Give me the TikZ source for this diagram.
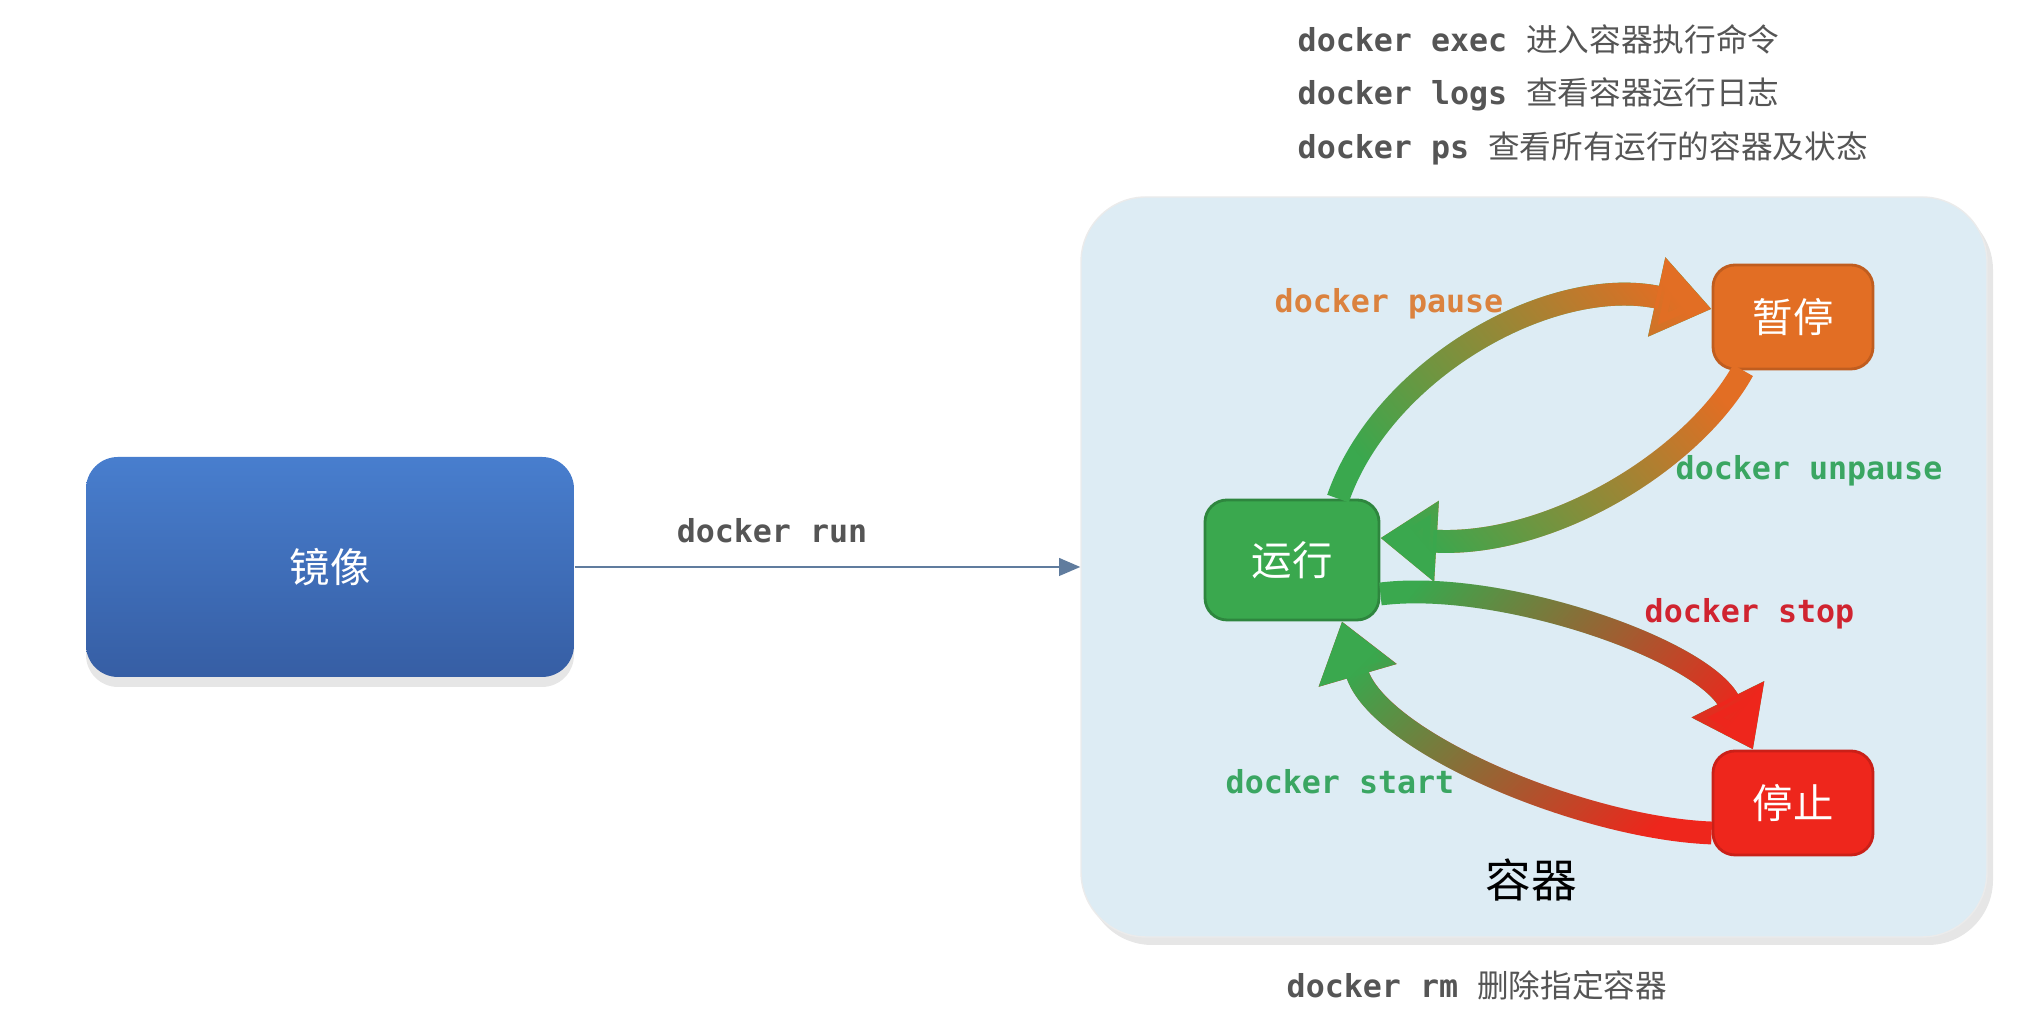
\documentclass[tikz,border=0pt]{standalone}
\usepackage{fontspec}
\setmainfont{Noto Sans CJK SC}
\setmonofont{DejaVu Sans Mono}
\usetikzlibrary{positioning}
\usetikzlibrary{arrows.meta}
\usetikzlibrary{fadings}
\usetikzlibrary{shadows}
\definecolor{txtgray}{RGB}{85,85,85}
\definecolor{imgtop}{RGB}{72,126,206}
\definecolor{imgbot}{RGB}{54,94,164}
\definecolor{boxbg}{RGB}{221,236,244}
\definecolor{rungreen}{RGB}{58,168,78}
\definecolor{pauseorange}{RGB}{226,110,36}
\definecolor{stopred}{RGB}{238,38,28}
\definecolor{lblorange}{RGB}{219,130,62}
\definecolor{lblgreen}{RGB}{58,166,98}
\definecolor{lblred}{RGB}{208,36,48}
\definecolor{linkblue}{RGB}{96,124,158}
\newcommand{\dk}[1]{{\ttfamily\bfseries #1}}

\begin{document}
\begin{tikzpicture}[cmd/.style={font=\fontsize{9}{11}\selectfont, text=txtgray, inner sep=0pt, anchor=west},
	state/.style={rectangle, rounded corners=2.2mm, minimum width=1.6cm, minimum height=1.04cm, text=white, font=\fontsize{11.5}{13}\selectfont, line width=0.8pt},
	flow/.style n args={3}{line width=6.5pt, -{Triangle[length=16pt,width=22pt]}, draw=#1, postaction={draw=#2, path fading=west, fading angle=#3}}]
	\useasboundingbox (0,0) rectangle (20.17,10.23);
	% \draw[help lines] (0,0) grid (20,10);
	\node[rectangle, rounded corners=6.5mm, minimum width=9.06cm, minimum height=7.4cm, fill=boxbg, draw=black!8, drop shadow={opacity=0.2, shadow xshift=0.6mm, shadow yshift=-0.8mm}](box) at (15.34,4.56){};
	\node[font=\fontsize{13}{15}\selectfont](boxlab) at (15.31,1.43){容器};
	\node[rectangle, rounded corners=3.2mm, minimum width=4.88cm, minimum height=2.2cm, top color=imgtop, bottom color=imgbot, drop shadow={opacity=0.2, shadow xshift=0mm, shadow yshift=-1mm}, text=white, font=\fontsize{11.5}{13}\selectfont](img) at (3.30,4.56){镜像};
	\draw[linkblue, line width=0.6pt, -{Triangle[length=6pt,width=5pt]}] (img.east) -- (box.west);
	\node[cmd, anchor=center](runlab) at (7.72,4.92){\dk{docker run}};
	% states
	\node[state, fill=rungreen, draw=rungreen!80!black, minimum width=1.74cm, minimum height=1.2cm](run) at (12.92,4.63){运行};
	\node[state, fill=pauseorange, draw=pauseorange!85!black](pause) at (17.93,7.06){暂停};
	\node[state, fill=stopred, draw=stopred!85!black](stop) at (17.93,2.20){停止};
	\draw[flow={rungreen}{pauseorange}{27}] ([xshift=4.6mm]run.north) .. controls +(0.45,1.3) and +(-1.6,0.35) .. ([yshift=0.8mm]pause.west);
	\draw[flow={pauseorange}{rungreen}{204}] ([xshift=-5mm]pause.south) .. controls +(-0.5,-0.9) and +(1.7,-0.1) .. ([yshift=2.2mm]run.east);
	\draw[flow={rungreen}{stopred}{-22}] ([yshift=-3.4mm]run.east) .. controls +(1.2,0.15) and +(-0.5,1.0) .. ([xshift=-4mm]stop.north);
	\draw[flow={stopred}{rungreen}{149}] ([yshift=-3mm]stop.west) .. controls +(-1.3,0.05) and +(0.35,-1.2) .. ([xshift=5mm]run.south);
	\node[cmd, text=lblorange](pauselab) at (12.74,7.19){\dk{docker pause}};
	\node[cmd, text=lblgreen](unpauselab) at (16.75,5.52){\dk{docker unpause}};
	\node[cmd, text=lblred](stoplab) at (16.44,4.09){\dk{docker stop}};
	\node[cmd, text=lblgreen](startlab) at (12.25,2.41){\dk{docker start}};
	% commands
	\node[cmd](exec) at (12.97,9.84){\dk{docker exec }进入容器执行命令};
	\node[cmd](logs) at (12.97,9.29){\dk{docker logs }查看容器运行日志};
	\node[cmd](ps) at (12.97,8.75){\dk{docker ps }查看所有运行的容器及状态};
	\node[cmd](rm) at (12.86,0.38){\dk{docker rm }删除指定容器};
\end{tikzpicture}
\end{document}
